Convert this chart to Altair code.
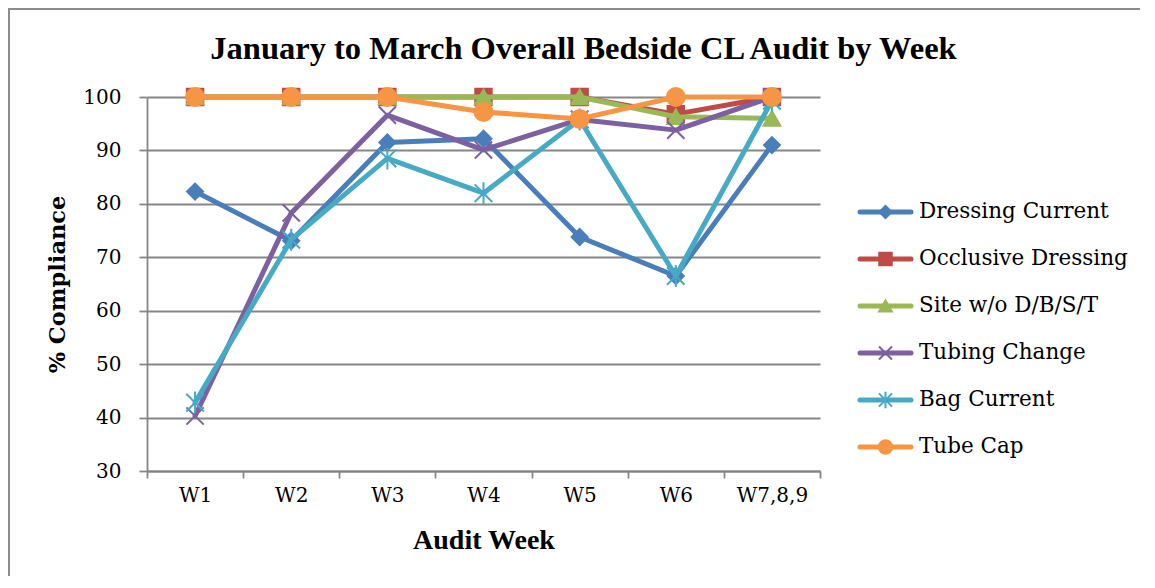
import altair as alt
import pandas as pd

weeks = ["W1", "W2", "W3", "W4", "W5", "W6", "W7,8,9"]
series_names = ["Dressing Current", "Occlusive Dressing", "Site w/o D/B/S/T",
                "Tubing Change", "Bag Current", "Tube Cap"]
dressing_current = [82.3, 73.1, 91.5, 92.2, 73.8, 66.5, 91.0]
occlusive_dressing = [100, 100, 100, 100, 100, 96.8, 100]
site_wo = [100, 100, 100, 100, 100, 96.3, 96.0]
tubing_change = [40.3, 78.3, 96.6, 90.1, 95.8, 93.8, 100]
bag_current = [42.8, 73.3, 88.5, 82.0, 95.8, 66.5, 99.3]
tube_cap = [100, 100, 100, 97.2, 95.9, 100, 100]

colors = ["#4A7EBB", "#BE4B48", "#98B954", "#7D60A0", "#46AAC5", "#F69544"]
shapes = ["diamond", "square", "triangle-up",
          "M-1,-1L1,1M-1,1L1,-1",
          "M-1,-1L1,1M-1,1L1,-1M0,-1.25L0,1.25",
          "circle"]
chart_sizes = [256, 324, 324, 324, 300, 324]
legend_sizes = [150, 180, 180, 160, 150, 180]

all_values = [dressing_current, occlusive_dressing, site_wo,
              tubing_change, bag_current, tube_cap]
rows = []
for name, vals in zip(series_names, all_values):
    for w, v in zip(weeks, vals):
        rows.append({"week": w, "series": name, "value": v})
df = pd.DataFrame(rows)
leg_df = pd.DataFrame({"series": series_names})

GRID = "#868686"
color_scale = alt.Scale(domain=series_names, range=colors)
shape_scale = alt.Scale(domain=series_names, range=shapes)

x_enc = alt.X("week:N", sort=weeks,
              scale=alt.Scale(type="band", paddingInner=0, paddingOuter=0),
              axis=alt.Axis(labelAngle=0, tickBand="extent", grid=False,
                            domainColor=GRID, domainWidth=1.8, tickColor=GRID,
                            tickWidth=1.8, tickSize=7, labelFont="DejaVu Serif",
                            labelFontSize=20, labelColor="black", labelPadding=7,
                            title="Audit Week", titleFont="Liberation Serif",
                            titleFontSize=28, titleFontWeight="bold",
                            titleColor="black", titlePadding=21))
y_enc = alt.Y("value:Q",
              scale=alt.Scale(domain=[30, 100], nice=False, zero=False),
              axis=alt.Axis(values=[30, 40, 50, 60, 70, 80, 90, 100],
                            grid=True, gridColor=GRID, gridWidth=1.8,
                            domainColor=GRID, domainWidth=1.8, tickColor=GRID,
                            tickWidth=1.8, tickSize=8, labelFont="DejaVu Serif",
                            labelFontSize=20, labelColor="black", labelPadding=18,
                            title="% Compliance", titleFont="DejaVu Serif",
                            titleFontSize=22.5, titleFontWeight="bold",
                            titleColor="black", titleX=-90, titleY=187,
                            titleAngle=-90, titleAlign="center",
                            titleBaseline="middle"))

main_layers = []
for i, name in enumerate(series_names):
    base = alt.Chart(df).transform_filter(alt.datum.series == name)
    line = base.mark_line(strokeWidth=5, strokeJoin="round", strokeCap="round").encode(
        x=x_enc, y=y_enc,
        color=alt.Color("series:N", scale=color_scale, legend=None))
    pts = base.mark_point(filled=True, strokeWidth=2, opacity=1).encode(
        x=x_enc, y=y_enc,
        fill=alt.Fill("series:N", scale=color_scale, legend=None),
        stroke=alt.Stroke("series:N", scale=color_scale, legend=None),
        shape=alt.Shape("series:N", scale=shape_scale, legend=None),
        size=alt.Size("series:N", scale=alt.Scale(domain=series_names, range=chart_sizes),
                      legend=None))
    main_layers += [line, pts]
main = alt.layer(*main_layers)

leg_y = alt.Y("series:N", scale=alt.Scale(type="point", domain=series_names,
                                          range=[115, 350], padding=0), axis=None)
leg_base = alt.Chart(leg_df)
leg_line = leg_base.mark_rule(strokeWidth=5, strokeCap="round").encode(
    x=alt.value(713), x2=alt.value(764), y=leg_y,
    color=alt.Color("series:N", scale=color_scale, legend=None))
leg_pts = leg_base.mark_point(filled=True, strokeWidth=2, opacity=1).encode(
    x=alt.value(738.5), y=leg_y,
    fill=alt.Fill("series:N", scale=color_scale, legend=None),
    stroke=alt.Stroke("series:N", scale=color_scale, legend=None),
    shape=alt.Shape("series:N", scale=shape_scale, legend=None),
    size=alt.Size("series:N", scale=alt.Scale(domain=series_names, range=legend_sizes),
                  legend=None))
leg_text = leg_base.mark_text(align="left", baseline="middle", font="DejaVu Serif",
                              fontSize=21.5, color="black").encode(
    x=alt.value(772), y=leg_y, text="series:N")
legend = alt.layer(leg_line, leg_pts, leg_text)

border_top = alt.Chart(leg_df).mark_rule(color="#8C8C8C", strokeWidth=2).encode(
    x=alt.value(-139), x2=alt.value(1000), y=alt.value(-88))
border_left = alt.Chart(leg_df).mark_rule(color="#8C8C8C", strokeWidth=2).encode(
    x=alt.value(-138), y=alt.value(-89), y2=alt.value(500))

chart = alt.layer(border_top, border_left, main, legend).resolve_scale(
    y="independent", size="independent"
).properties(
    width=673, height=374,
    title=alt.TitleParams("January to March Overall Bedside CL Audit by Week",
                          font="Liberation Serif", fontSize=32.5, fontWeight="bold",
                          color="black", anchor="middle", dx=100, offset=-58),
    autosize=alt.AutoSizeParams(type="none"),
    padding={"left": 139, "top": 89, "right": 320, "bottom": 105},
).configure_view(stroke="transparent")

chart.save("out.html", embed_options={"renderer": "svg", "actions": False})
